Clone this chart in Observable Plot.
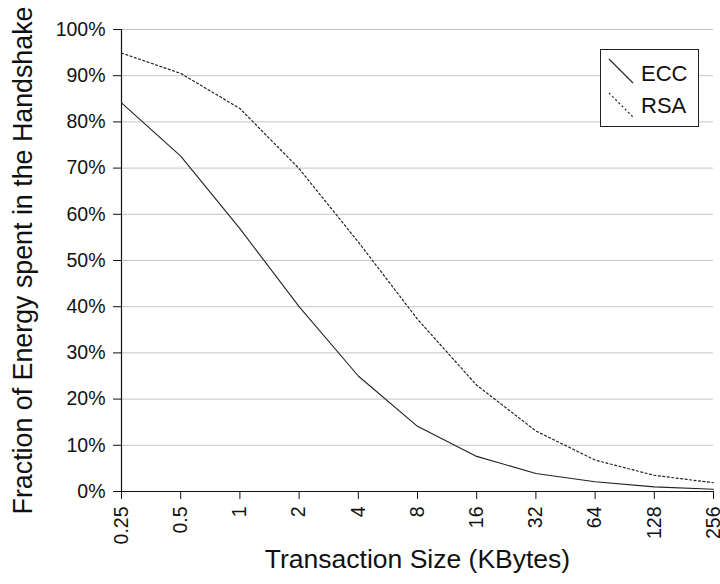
<!DOCTYPE html>
<html>
<head>
<meta charset="utf-8">
<script src="https://cdn.jsdelivr.net/npm/d3@7"></script>
<script src="https://cdn.jsdelivr.net/npm/@observablehq/plot@0.6"></script>
<style>
  html, body { margin: 0; padding: 0; background: #fff; }
  #wrap { position: relative; width: 720px; height: 584px; font-family: "Liberation Sans", Arial, sans-serif; }
  #legend { position: absolute; left: 600px; top: 49px; width: 99px; height: 78px; border: 1px solid #222; background: #fff; box-sizing: border-box; }
  #legend svg { position: absolute; left: -1px; top: -1px; overflow: visible; }
</style>
</head>
<body>
<div id="wrap"></div>
<script>
const sizes = [0.25, 0.5, 1, 2, 4, 8, 16, 32, 64, 128, 256];
const sizeLabels = ["0.25", "0.5", "1", "2", "4", "8", "16", "32", "64", "128", "256"];
const ecc = [0.841, 0.726, 0.569, 0.400, 0.250, 0.141, 0.076, 0.039, 0.021, 0.010, 0.005];
const rsa = [0.949, 0.905, 0.829, 0.699, 0.540, 0.373, 0.230, 0.131, 0.068, 0.035, 0.019];
const yTicks = [0, 0.1, 0.2, 0.3, 0.4, 0.5, 0.6, 0.7, 0.8, 0.9, 1.0];
const seriesNames = ["ECC", "RSA"];

const data = [];
sizes.forEach((s, i) => {
  data.push({series: "ECC", size: s, value: ecc[i]});
  data.push({series: "RSA", size: s, value: rsa[i]});
});

const chart = Plot.plot({
  width: 720,
  height: 584,
  marginLeft: 121,
  marginRight: 7,
  marginTop: 29,
  marginBottom: 93,
  style: {fontFamily: "'Liberation Sans', Arial, sans-serif", fontSize: "19.5px", background: "#fff", color: "#111"},
  x: {type: "log", base: 2, domain: [0.25, 256]},
  y: {domain: [0, 1]},
  marks: [
    Plot.gridY(yTicks, {stroke: "#c4c4c4", strokeOpacity: 1, strokeWidth: 1}),
    Plot.axisY(yTicks, {tickFormat: d3.format(".0%"), tickSize: 8, tickPadding: 8, fontSize: 19.5, label: null, stroke: "#111"}),
    Plot.axisX(sizes, {tickFormat: (d) => sizeLabels[sizes.indexOf(d)], tickSize: 8, tickPadding: 7, tickRotate: -90, fontSize: 19.5, label: null, stroke: "#111"}),
    Plot.ruleY([0], {stroke: "#111", strokeWidth: 1.2}),
    Plot.ruleX([0.25], {stroke: "#111", strokeWidth: 1.2}),
    Plot.line(data.filter(d => d.series === "ECC"), {x: "size", y: "value", stroke: "#222", strokeWidth: 1.1}),
    Plot.line(data.filter(d => d.series === "RSA"), {x: "size", y: "value", stroke: "#222", strokeWidth: 1.2, strokeDasharray: "2,2.5"}),
    Plot.text(["Fraction of Energy spent in the Handshake"], {frameAnchor: "left", dx: -98, dy: 0, rotate: -90, fontSize: 26.8, fill: "#111", textAnchor: "middle"}),
    Plot.text(["Transaction Size (KBytes)"], {frameAnchor: "bottom", dy: 76, fontSize: 26.5, fill: "#111"})
  ]
});

const wrap = document.getElementById("wrap");
wrap.appendChild(chart);

const legend = document.createElement("div");
legend.id = "legend";
legend.innerHTML = `
  <svg width="99" height="78" style="font-family:'Liberation Sans', Arial, sans-serif">
    <line x1="9" y1="10" x2="33" y2="34" stroke="#222" stroke-width="1.1"/>
    <line x1="9" y1="44" x2="33" y2="68" stroke="#222" stroke-width="1.2" stroke-dasharray="2,2.5"/>
    <text x="41" y="32" font-size="22" fill="#111">${seriesNames[0]}</text>
    <text x="41" y="64" font-size="22" fill="#111">${seriesNames[1]}</text>
  </svg>`;
wrap.appendChild(legend);
</script>
</body>
</html>
